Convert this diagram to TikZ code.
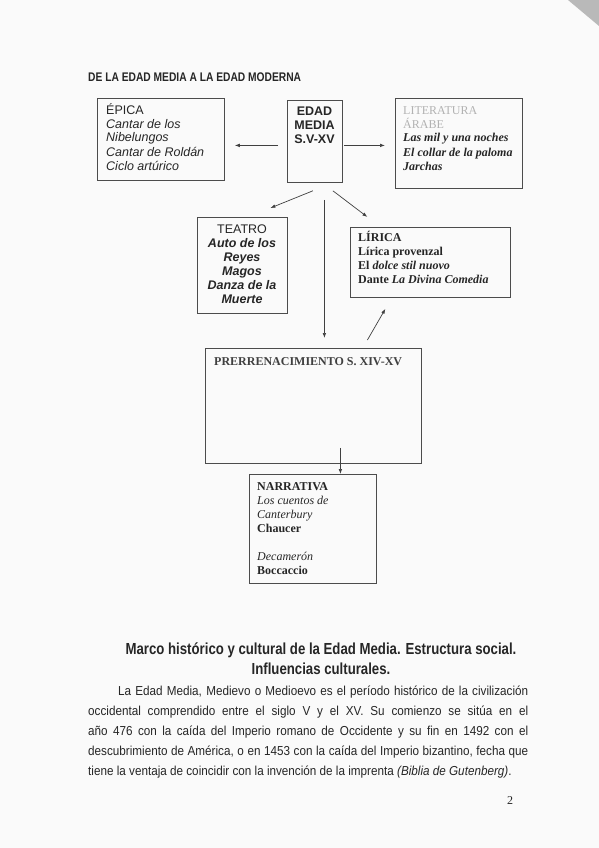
\documentclass[tikz,border=0pt]{standalone}
\usepackage{fontspec}
\setmainfont{Liberation Serif}
\newfontfamily\arial{Liberation Sans}
\newfontfamily\tnr{Liberation Serif}
\usetikzlibrary{arrows.meta,calc}
\newcommand\bi[1]{\textbf{\textit{#1}}}
\newcommand\llines[1]{\vtop{\baselineskip=14pt\lineskiplimit=-100pt\lineskip=0pt\halign{##\hfil\cr #1\crcr}}}
\newcommand\clines[1]{\vtop{\baselineskip=14pt\lineskiplimit=-100pt\lineskip=0pt\halign{\hfil##\hfil\cr #1\crcr}}}
\begin{document}
\begin{tikzpicture}[x=1pt,y=-1pt,
  box/.style={draw=black!70, line width=0.8pt, inner sep=0pt, anchor=north west},
  arr/.style={draw=black!75, line width=0.7pt, -{Latex[length=5pt,width=3.6pt]}},
  sanst/.style={font=\arial\fontsize{12.5}{14}\selectfont, text=black!85, inner sep=0pt},
  serift/.style={font=\tnr\fontsize{12}{14}\selectfont, text=black!85, inner sep=0pt}]
\useasboundingbox (0,0) rectangle (599,848);
\fill[gray!4] (0,0) rectangle (599,848);
\fill[gray!55] (568,0) -- (599,0) -- (599,26) -- cycle;

% title
\node[anchor=base west, inner sep=0pt, text=black!85] (title) at (88,82)
  {\scalebox{0.82}[1]{\arial\bfseries\fontsize{12.5}{14}\selectfont DE LA EDAD MEDIA A LA EDAD MODERNA}};

% boxes
\node[box, minimum width=127pt, minimum height=82pt] (epica) at (97,98) {};
\node[box, minimum width=55pt, minimum height=82pt] (media) at (287,100) {};
\node[box, minimum width=127pt, minimum height=90pt] (arabe) at (395,98) {};
\node[box, minimum width=90pt, minimum height=96pt] (teatro) at (197,217) {};
\node[box, minimum width=160pt, minimum height=70pt] (lirica) at (350,227) {};
\node[box, minimum width=216pt, minimum height=115pt] (prerr) at (205,348) {};
\node[box, minimum width=127pt, minimum height=109pt] (narr) at (249,474) {};

% texts
\node[sanst, anchor=base west] (epicat) at (106,114) {\llines{%
ÉPICA\cr \textit{Cantar de los}\cr \textit{Nibelungos}\cr \textit{Cantar de Roldán}\cr \textit{Ciclo artúrico}}};
\node[sanst, anchor=base] (mediat) at (314.5,116) {\clines{%
\textbf{EDAD}\cr \textbf{MEDIA}\cr \textbf{S.V-XV}}};
\node[serift, anchor=base west] (arabet) at (403,114) {\llines{%
\textcolor{gray!60}{LITERATURA}\cr \textcolor{gray!60}{ÁRABE}\cr \bi{Las mil y una noches}\cr \bi{El collar de la paloma}\cr \bi{Jarchas}}};
\node[sanst, anchor=base] (teatrot) at (242,233) {\clines{%
TEATRO\cr \bi{Auto de los}\cr \bi{Reyes}\cr \bi{Magos}\cr \bi{Danza de la}\cr \bi{Muerte}}};
\node[serift, anchor=base west] (lirict) at (358,241) {\llines{%
\textbf{LÍRICA}\cr \textbf{Lírica provenzal}\cr \textbf{El} \bi{dolce stil nuovo}\cr \textbf{Dante} \bi{La Divina Comedia}}};
\node[serift, anchor=base west, text=black!75] (prerrt) at (214,365)
  {\bfseries PRERRENACIMIENTO S. XIV-XV};
\node[serift, anchor=base west] (narrt) at (257,490) {\llines{%
\textbf{NARRATIVA}\cr \textit{Los cuentos de}\cr \textit{Canterbury}\cr \textbf{Chaucer}\cr \cr \textit{Decamerón}\cr \textbf{Boccaccio}}};

% connectors
\draw[arr, shorten <=9pt, shorten >=10pt] ([yshift=-4pt]media.west) -- ([yshift=-4pt]media.west -| epica.east);
\draw[arr, shorten <=1pt, shorten >=10pt] ([yshift=-4pt]media.east) -- ([yshift=-4pt]media.east -| arabe.west);
\draw[arr] ($(media.south)+(-2,8)$) -- ($(teatro.north)+(28,-9)$);
\draw[arr] ($(media.south)+(18,8)$) -- ($(lirica.north)+(-63,-10)$);
\draw[arr] ($(media.south)+(9.5,17)$) -- ($(prerr.north)+(11,-10)$);
\draw[arr] ($(prerr.north)+(54,-8)$) -- ($(lirica.south)+(-45,11)$);
\draw[arr] ($(prerr.south)+(27,-16)$) -- ($(narr.north)+(27.5,0)$);

% heading and body
\node[anchor=base, inner sep=0pt, text=black!85] (h1) at (321,654)
  {\scalebox{0.825}[1]{\arial\bfseries\fontsize{16}{20}\selectfont Marco histórico y cultural de la Edad Media. Estructura social.}};
\node[anchor=base, inner sep=0pt, text=black!85] (h2) at (321,674)
  {\scalebox{0.825}[1]{\arial\bfseries\fontsize{16}{20}\selectfont Influencias culturales.}};
\node[anchor=base west, inner sep=0pt, text=black!85] (body) at (88,695)
  {\scalebox{0.9}[1]{\parbox[t]{488.9pt}{\arial\fontsize{13}{20}\selectfont
  \tolerance=10000 \hbadness=10000 \setlength{\parindent}{33.3pt}\indent
  La Edad Media, Medievo o Medioevo es el período histórico de la civilización\linebreak
  occidental comprendido entre el siglo V y el XV. Su comienzo se sitúa en el\linebreak
  año 476 con la caída del Imperio romano de Occidente y su fin en 1492 con el\linebreak
  descubrimiento de América, o en 1453 con la caída del Imperio bizantino, fecha que\linebreak
  tiene la ventaja de coincidir con la invención de la imprenta \textit{(Biblia de Gutenberg)}.}}};

\node[anchor=base, inner sep=0pt, text=black!85] (pg) at (510,804) {\tnr\fontsize{12}{14}\selectfont 2};
\end{tikzpicture}
\end{document}
